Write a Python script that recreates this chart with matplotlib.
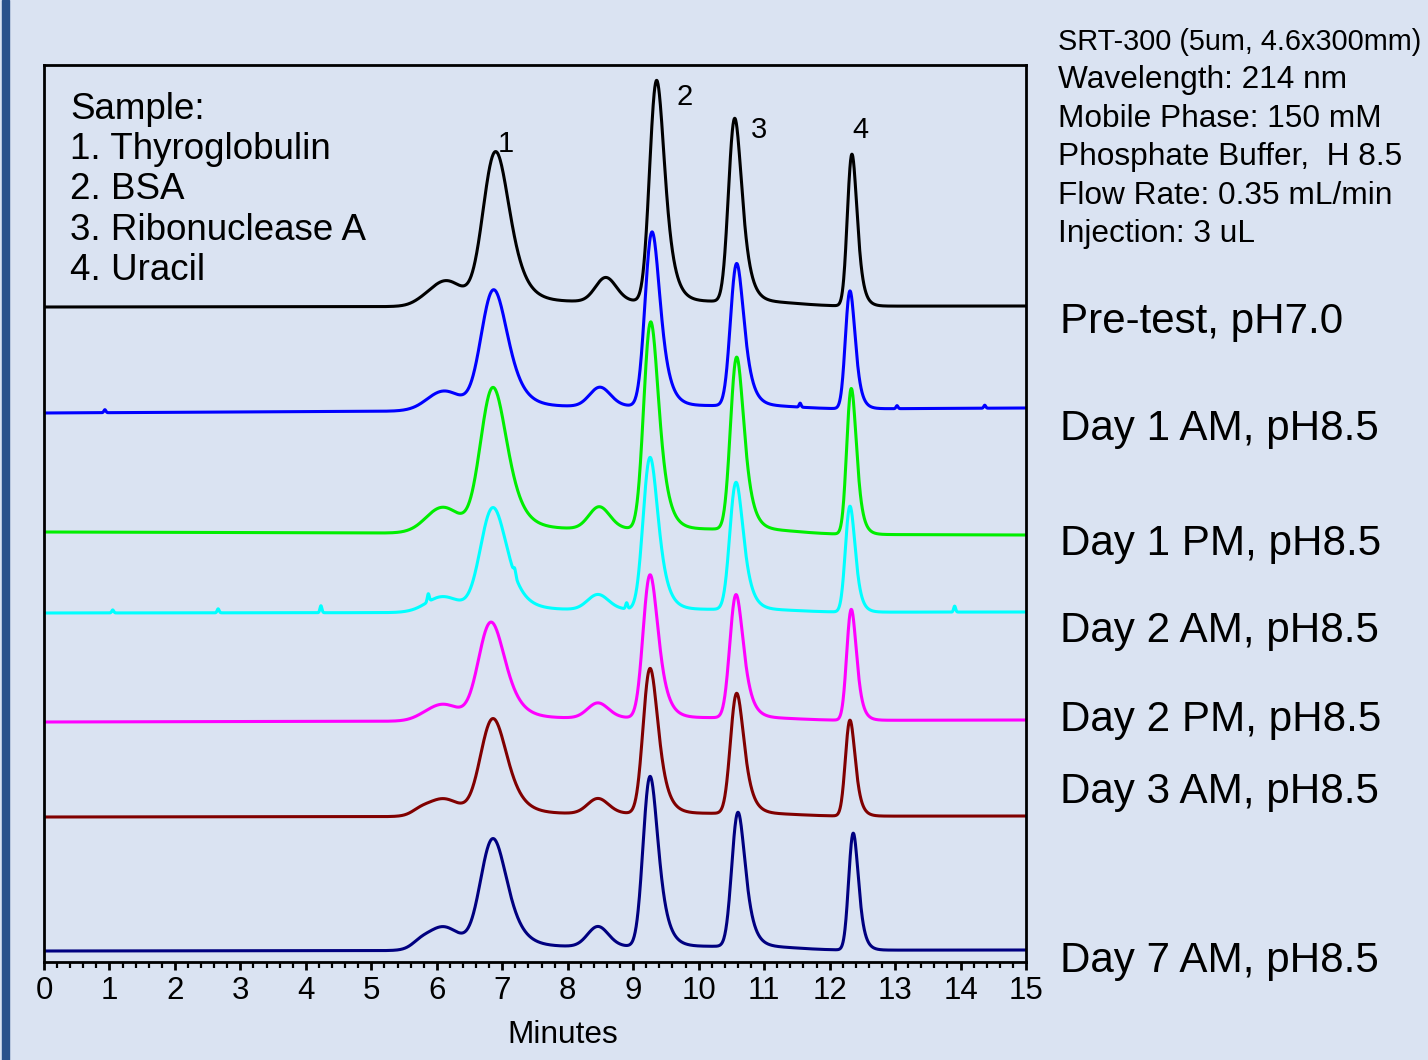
import numpy as np
import matplotlib
matplotlib.use("Agg")
import matplotlib.pyplot as plt
from matplotlib.patches import Rectangle
from matplotlib.ticker import MultipleLocator

# ---------------------------------------------------------------- data
samples = ["Pre-test, pH7.0", "Day 1 AM, pH8.5", "Day 1 PM, pH8.5",
           "Day 2 AM, pH8.5", "Day 2 PM, pH8.5", "Day 3 AM, pH8.5",
           "Day 7 AM, pH8.5"]
colors = ["#000000", "#0000ff", "#00ee00", "#00ffff", "#ff00ff",
          "#800000", "#000080"]

# components of each chromatogram: shoulder, minor peak, peak 1,
# minor peak, peak 2, peak 3, peak 4
component_names = ["shoulder", "pre-1", "1", "pre-2", "2", "3", "4"]
widths_sigma = [0.12, 0.24, 0.165, 0.15, 0.09, 0.08, 0.06]    # min
widths_tau = [0.0, 0.05, 0.17, 0.06, 0.11, 0.10, 0.065]       # min

# apex retention times (min), one row per run
retention = [
    [5.74, 6.14, 6.90, 8.58, 9.36, 10.55, 12.34],
    [5.74, 6.11, 6.87, 8.49, 9.29, 10.58, 12.31],
    [5.74, 6.09, 6.86, 8.48, 9.27, 10.58, 12.33],
    [5.74, 6.09, 6.86, 8.46, 9.26, 10.57, 12.31],
    [5.74, 6.09, 6.83, 8.46, 9.26, 10.57, 12.33],
    [5.74, 6.09, 6.86, 8.46, 9.26, 10.58, 12.31],
    [5.74, 6.09, 6.86, 8.46, 9.26, 10.60, 12.36],
]
# signal at each apex above the run's baseline (mAU)
apex_height = [
    [9, 26, 155, 29, 226, 188, 152],
    [7, 20, 121, 23, 178, 146, 118],
    [10, 26, 146, 27, 212, 177, 146],
    [6, 16, 105, 18, 155, 130, 106],
    [7, 17, 99, 18, 146, 126, 111],
    [10, 18, 98, 18, 148, 123, 96],
    [13, 24, 112, 24, 174, 138, 117],
]
# baseline at 0 min and at 15 min (mAU, with stacking offset)
baseline_start = [655, 549, 430, 349, 240, 145, 11]
baseline_end = [656, 554, 427, 350, 242, 146, 12]
# low background plateau under the eluting region (mAU)
plateau_height = [5, 4, 5, 3, 3, 3, 4]
plateau_start, plateau_end = 5.7, 11.55

# detector glitches: (time, height)
glitches = [
    [],
    [(0.93, 3), (11.55, 4), (13.03, 3), (14.37, 3)],
    [],
    [(1.05, 3), (2.66, 4), (4.23, 7), (5.87, 8), (7.19, 6), (8.90, 6),
     (13.91, 6)],
    [],
    [],
    [],
]

peak_labels = ["1", "2", "3", "4"]
info_lines = ["SRT-300 (5um, 4.6x300mm)", "Wavelength: 214 nm",
              "Mobile Phase: 150 mM", "Phosphate Buffer,  H 8.5",
              "Flow Rate: 0.35 mL/min", "Injection: 3 uL"]
sample_lines = ["Sample:", "1. Thyroglobulin", "2. BSA",
                "3. Ribonuclease A", "4. Uracil"]

# ---------------------------------------------------------------- model
dt = 0.005
t = np.arange(0.0, 15.0 + dt / 2, dt)


def peak_shape(x, apex, sigma, tau):
    """Exponentially modified Gaussian, scaled to 1 at its apex."""
    u = np.arange(-6 * sigma, 6 * sigma + 10 * tau + dt, dt)
    g = np.exp(-0.5 * (u / sigma) ** 2)
    if tau > 0:
        k = np.exp(-np.arange(0, 10 * tau, dt) / tau)
        g = np.convolve(g, k)[: len(u)]
    g = g / g.max()
    off = u[np.argmax(g)]
    return np.interp(x, u + apex - off, g, left=0.0, right=0.0)


def plateau(x):
    rise = 1.0 / (1.0 + np.exp(-(x - plateau_start) / 0.12))
    fall = 1.0 / (1.0 + np.exp((x - plateau_end) / 0.25))
    return rise * fall


def trace(i):
    rts = retention[i]
    heights = np.array(apex_height[i], dtype=float)
    # solve amplitudes so the summed signal hits each apex height
    m = np.array([[peak_shape(np.array([rt_i]), rt_j, s, tau)[0]
                   for rt_j, s, tau in zip(rts, widths_sigma, widths_tau)]
                  for rt_i in rts])
    target = heights - plateau_height[i] * plateau(np.array(rts))
    amps = np.linalg.solve(m, target)
    y = baseline_start[i] + (baseline_end[i] - baseline_start[i]) * t / 15.0
    y = y + plateau_height[i] * plateau(t)
    for a, rt, s, tau in zip(amps, rts, widths_sigma, widths_tau):
        y = y + a * peak_shape(t, rt, s, tau)
    for gt, gh in glitches[i]:
        y = y + gh * np.exp(-0.5 * ((t - gt) / 0.015) ** 2)
    return y


# ---------------------------------------------------------------- figure
W, H = 1428, 1060
bg = "#dae3f2"
fig = plt.figure(figsize=(W / 100, H / 100), dpi=100, facecolor=bg)
plt.rcParams["font.family"] = ["Liberation Sans", "DejaVu Sans"]


def fx(px):
    return px / W


def fy(py):
    return 1 - py / H


fig.patches.append(Rectangle((fx(2), 0), fx(7), 1, transform=fig.transFigure,
                             color="#2a528c", zorder=5))

ax = fig.add_axes([fx(44), fy(962), fx(1026 - 44), (962 - 65) / H])
ax.set_facecolor(bg)
for i in range(len(samples)):
    ax.plot(t, trace(i), color=colors[i], lw=2.2, solid_joinstyle="round")

ax.set_xlim(0, 15)
ax.set_ylim(0, 897)
ax.set_yticks([])
ax.xaxis.set_major_locator(MultipleLocator(1))
ax.xaxis.set_minor_locator(MultipleLocator(0.2))
ax.tick_params(axis="x", which="major", direction="out", length=6, width=2,
               labelsize=22.5, pad=4, colors="black")
ax.tick_params(axis="x", which="minor", direction="out", length=4, width=1.6)
for sp in ax.spines.values():
    sp.set_linewidth(2)
    sp.set_color("black")

# peak numbers above the pre-test run
for lab, (px, py) in zip(peak_labels, [(506, 152), (685, 105), (759, 138),
                                       (860, 138)]):
    fig.text(fx(px), fy(py), lab, fontsize=21, ha="center", va="baseline")

# sample list
for k, line in enumerate(sample_lines):
    fig.text(fx(70), fy(119 + 40.2 * k), line, fontsize=26.5, ha="left",
             va="baseline")

# method conditions
for k, line in enumerate(info_lines):
    size = 20.8 if k == 0 else 22.8
    fig.text(fx(1058), fy(50 + 38.4 * k), line, fontsize=size, ha="left",
             va="baseline")

# run labels
for lab, py in zip(samples, [333, 440, 555, 642, 731, 803, 972]):
    fig.text(fx(1060), fy(py), lab, fontsize=30.3, ha="left", va="baseline")

fig.text(fx(563), fy(1043), "Minutes", fontsize=22.8, ha="center",
         va="baseline")

fig.savefig("out.png", dpi=100, facecolor=bg)
